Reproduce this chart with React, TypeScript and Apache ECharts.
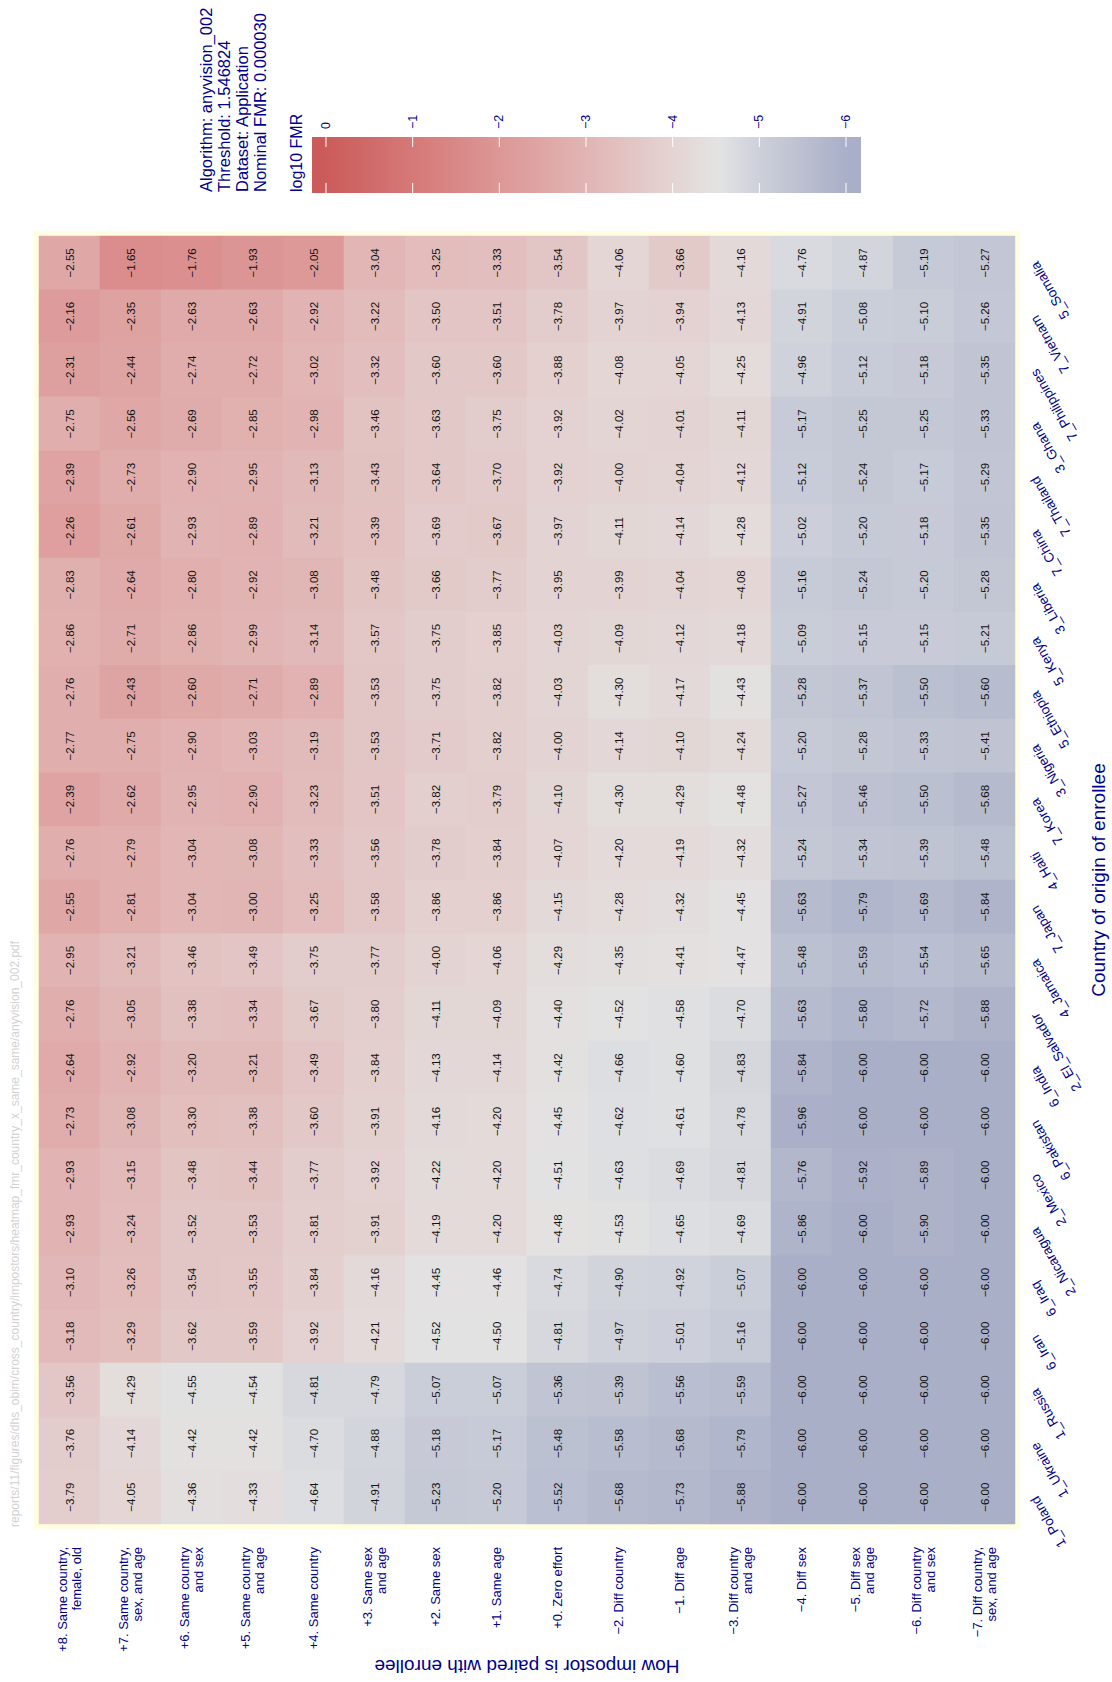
import React, { useEffect, useRef } from "react";
import * as echarts from "echarts";

// ---------- data ----------
const categories = [
  "+8. Same country,\nfemale, old",
  "+7. Same country,\nsex, and age",
  "+6. Same country\nand sex",
  "+5. Same country\nand age",
  "+4. Same country",
  "+3. Same sex\nand age",
  "+2. Same sex",
  "+1. Same age",
  "+0. Zero effort",
  "\u22122. Diff country",
  "\u22121. Diff age",
  "\u22123. Diff country\nand age",
  "\u22124. Diff sex",
  "\u22125. Diff sex\nand age",
  "\u22126. Diff country\nand sex",
  "\u22127. Diff country,\nsex, and age",
];

// top to bottom
const countries = [
  "5_Somalia", "7_Vietnam", "7_Philippines", "3_Ghana", "7_Thailand", "7_China",
  "3_Liberia", "5_Kenya", "5_Ethiopia", "3_Nigeria", "7_Korea", "4_Haiti",
  "7_Japan", "4_Jamaica", "2_El_Salvador", "6_India", "6_Pakistan", "2_Mexico",
  "2_Nicaragua", "6_Iraq", "6_Iran", "1_Russia", "1_Ukraine", "1_Poland",
];

const somalia = [-2.55, -1.65, -1.76, -1.93, -2.05, -3.04, -3.25, -3.33, -3.54, -4.06, -3.66, -4.16, -4.76, -4.87, -5.19, -5.27];
const vietnam = [-2.16, -2.35, -2.63, -2.63, -2.92, -3.22, -3.50, -3.51, -3.78, -3.97, -3.94, -4.13, -4.91, -5.08, -5.10, -5.26];
const philippines = [-2.31, -2.44, -2.74, -2.72, -3.02, -3.32, -3.60, -3.60, -3.88, -4.08, -4.05, -4.25, -4.96, -5.12, -5.18, -5.35];
const ghana = [-2.75, -2.56, -2.69, -2.85, -2.98, -3.46, -3.63, -3.75, -3.92, -4.02, -4.01, -4.11, -5.17, -5.25, -5.25, -5.33];
const thailand = [-2.39, -2.73, -2.90, -2.95, -3.13, -3.43, -3.64, -3.70, -3.92, -4.00, -4.04, -4.12, -5.12, -5.24, -5.17, -5.29];
const china = [-2.26, -2.61, -2.93, -2.89, -3.21, -3.39, -3.69, -3.67, -3.97, -4.11, -4.14, -4.28, -5.02, -5.20, -5.18, -5.35];
const liberia = [-2.83, -2.64, -2.80, -2.92, -3.08, -3.48, -3.66, -3.77, -3.95, -3.99, -4.04, -4.08, -5.16, -5.24, -5.20, -5.28];
const kenya = [-2.86, -2.71, -2.86, -2.99, -3.14, -3.57, -3.75, -3.85, -4.03, -4.09, -4.12, -4.18, -5.09, -5.15, -5.15, -5.21];
const ethiopia = [-2.76, -2.43, -2.60, -2.71, -2.89, -3.53, -3.75, -3.82, -4.03, -4.30, -4.17, -4.43, -5.28, -5.37, -5.50, -5.60];
const nigeria = [-2.77, -2.75, -2.90, -3.03, -3.19, -3.53, -3.71, -3.82, -4.00, -4.14, -4.10, -4.24, -5.20, -5.28, -5.33, -5.41];
const korea = [-2.39, -2.62, -2.95, -2.90, -3.23, -3.51, -3.82, -3.79, -4.10, -4.30, -4.29, -4.48, -5.27, -5.46, -5.50, -5.68];
const haiti = [-2.76, -2.79, -3.04, -3.08, -3.33, -3.56, -3.78, -3.84, -4.07, -4.20, -4.19, -4.32, -5.24, -5.34, -5.39, -5.48];
const japan = [-2.55, -2.81, -3.04, -3.00, -3.25, -3.58, -3.86, -3.86, -4.15, -4.28, -4.32, -4.45, -5.63, -5.79, -5.69, -5.84];
const jamaica = [-2.95, -3.21, -3.46, -3.49, -3.75, -3.77, -4.00, -4.06, -4.29, -4.35, -4.41, -4.47, -5.48, -5.59, -5.54, -5.65];
const elSalvador = [-2.76, -3.05, -3.38, -3.34, -3.67, -3.80, -4.11, -4.09, -4.40, -4.52, -4.58, -4.70, -5.63, -5.80, -5.72, -5.88];
const india = [-2.64, -2.92, -3.20, -3.21, -3.49, -3.84, -4.13, -4.14, -4.42, -4.66, -4.60, -4.83, -5.84, -6.00, -6.00, -6.00];
const pakistan = [-2.73, -3.08, -3.30, -3.38, -3.60, -3.91, -4.16, -4.20, -4.45, -4.62, -4.61, -4.78, -5.96, -6.00, -6.00, -6.00];
const mexico = [-2.93, -3.15, -3.48, -3.44, -3.77, -3.92, -4.22, -4.20, -4.51, -4.63, -4.69, -4.81, -5.76, -5.92, -5.89, -6.00];
const nicaragua = [-2.93, -3.24, -3.52, -3.53, -3.81, -3.91, -4.19, -4.20, -4.48, -4.53, -4.65, -4.69, -5.86, -6.00, -5.90, -6.00];
const iraq = [-3.10, -3.26, -3.54, -3.55, -3.84, -4.16, -4.45, -4.46, -4.74, -4.90, -4.92, -5.07, -6.00, -6.00, -6.00, -6.00];
const iran = [-3.18, -3.29, -3.62, -3.59, -3.92, -4.21, -4.52, -4.50, -4.81, -4.97, -5.01, -5.16, -6.00, -6.00, -6.00, -6.00];
const russia = [-3.56, -4.29, -4.55, -4.54, -4.81, -4.79, -5.07, -5.07, -5.36, -5.39, -5.56, -5.59, -6.00, -6.00, -6.00, -6.00];
const ukraine = [-3.76, -4.14, -4.42, -4.42, -4.70, -4.88, -5.18, -5.17, -5.48, -5.58, -5.68, -5.79, -6.00, -6.00, -6.00, -6.00];
const poland = [-3.79, -4.05, -4.36, -4.33, -4.64, -4.91, -5.23, -5.20, -5.52, -5.68, -5.73, -5.88, -6.00, -6.00, -6.00, -6.00];

const countryRows = [
  somalia, vietnam, philippines, ghana, thailand, china, liberia, kenya, ethiopia,
  nigeria, korea, haiti, japan, jamaica, elSalvador, india, pakistan, mexico,
  nicaragua, iraq, iran, russia, ukraine, poland,
];

const colorbarTicks = [0, -1, -2, -3, -4, -5, -6];

const infoLines = [
  "Algorithm: anyvision_002",
  "Threshold: 1.546824",
  "Dataset: Application",
  "Nominal FMR: 0.000030",
];
const watermark =
  "reports/11/figures/dhs_obim/cross_country/impostors/heatmap_fmr_country_x_same_same/anyvision_002.pdf";

// ---------- colour scale ----------
const colorAnchors: [number, string][] = [
  [-6, "#a9afc7"],
  [-5, "#cdd0da"],
  [-4.52, "#e3e3e3"],
  [-4, "#e3d4d3"],
  [-3, "#e1b5b4"],
  [-2, "#dc9796"],
  [-1, "#d57978"],
  [0, "#cb5b5b"],
];
function hexRgb(h: string) {
  return [parseInt(h.slice(1, 3), 16), parseInt(h.slice(3, 5), 16), parseInt(h.slice(5, 7), 16)];
}
function colorAt(v: number) {
  const c = Math.max(-6, Math.min(0, v));
  for (let i = 0; i < colorAnchors.length - 1; i++) {
    const [v0, h0] = colorAnchors[i];
    const [v1, h1] = colorAnchors[i + 1];
    if (c >= v0 && c <= v1) {
      const t = (c - v0) / (v1 - v0);
      const a = hexRgb(h0), b = hexRgb(h1);
      const r = a.map((x, k) => Math.round(x + (b[k] - x) * t));
      return `rgb(${r[0]},${r[1]},${r[2]})`;
    }
  }
  return colorAnchors[colorAnchors.length - 1][1];
}
const palette = Array.from({ length: 61 }, (_, i) => colorAt(-6 + i * 0.1));

// ---------- layout ----------
const FONT = "'Liberation Sans', Arial, Helvetica, sans-serif";
const BLUE = "#00008B";
const G = { left: 39, top: 236, width: 976, height: 1288 };
const FR = 5;
const CB = { left: 312, right: 861, top: 137, bottom: 193, zeroX: 326, pxPerUnit: 86.67 };

const fmt = (v: number) => v.toFixed(2).replace("-", "\u2212");
const tickFmt = (v: number) => (v === 0 ? "0" : "\u2212" + Math.abs(v));

function buildOption(): any {
  const data: any[] = [];
  countryRows.forEach((row, i) => row.forEach((v, j) => data.push([j, i, v])));

  const cbValAtX = (x: number) => -(x - CB.zeroX) / CB.pxPerUnit;
  const gradStops = Array.from({ length: 51 }, (_, k) => {
    const t = k / 50;
    const x = CB.left + t * (CB.right - CB.left);
    return { offset: t, color: colorAt(cbValAtX(x)) };
  });

  const graphics: any[] = [
    {
      type: "rect",
      z: -10,
      shape: { x: G.left - FR, y: G.top - FR, width: G.width + 2 * FR, height: G.height + 2 * FR },
      style: { fill: "#fffee0" },
    },
    {
      type: "rect",
      shape: { x: CB.left, y: CB.top, width: CB.right - CB.left, height: CB.bottom - CB.top },
      style: { fill: new echarts.graphic.LinearGradient(0, 0, 1, 0, gradStops) },
    },
    {
      type: "text",
      x: 15,
      y: 1527,
      rotation: Math.PI / 2,
      style: { text: watermark, fill: "#d2d2d2", font: `12px ${FONT}`, textAlign: "left", textVerticalAlign: "middle" },
    },
    {
      type: "text",
      x: 233,
      y: 192,
      rotation: Math.PI / 2,
      style: {
        text: infoLines.join("\n"),
        fill: BLUE,
        font: `16.5px ${FONT}`,
        lineHeight: 18,
        textAlign: "left",
        textVerticalAlign: "middle",
      },
    },
    {
      type: "text",
      x: 296,
      y: 192,
      rotation: Math.PI / 2,
      style: { text: "log10 FMR", fill: BLUE, font: `16px ${FONT}`, textAlign: "left", textVerticalAlign: "middle" },
    },
  ];
  colorbarTicks.forEach((t) => {
    const x = CB.zeroX - t * CB.pxPerUnit;
    graphics.push({
      type: "line",
      shape: { x1: x, y1: CB.top, x2: x, y2: CB.top + 10 },
      style: { stroke: "#ffffff", lineWidth: 1 },
    });
    graphics.push({
      type: "line",
      shape: { x1: x, y1: CB.bottom - 10, x2: x, y2: CB.bottom },
      style: { stroke: "#ffffff", lineWidth: 1 },
    });
    graphics.push({
      type: "text",
      x,
      y: 129,
      rotation: Math.PI / 2,
      style: { text: tickFmt(t), fill: BLUE, font: `12.5px ${FONT}`, textAlign: "left", textVerticalAlign: "middle" },
    });
  });

  return {
    animation: false,
    backgroundColor: "#ffffff",
    grid: { ...G, containLabel: false, outerBoundsMode: "none" },
    visualMap: {
      show: false,
      type: "continuous",
      min: -6,
      max: 0,
      dimension: 2,
      seriesIndex: 0,
      inRange: { color: palette },
    },
    xAxis: [
      {
        type: "category",
        data: categories,
        position: "bottom",
        offset: FR,
        axisLine: { show: false },
        splitLine: { show: false },
        axisTick: { alignWithLabel: true, length: 8, lineStyle: { color: "#333", width: 1.5 } },
        axisLabel: {
          interval: 0,
          rotate: 90,
          margin: 18,
          fontSize: 13,
          lineHeight: 13.5,
          color: BLUE,
          fontFamily: FONT,
        },
        name: "How impostor is paired with enrollee",
        nameLocation: "middle",
        nameGap: 128,
        nameRotate: 180,
        nameMoveOverlap: false,
        nameTextStyle: { fontSize: 19, color: BLUE, fontFamily: FONT },
      },
      {
        type: "category",
        data: categories,
        position: "top",
        offset: FR,
        axisLine: { show: false },
        splitLine: { show: false },
        axisTick: { alignWithLabel: true, inside: true, length: FR, lineStyle: { color: "#9a9a9a" } },
        axisLabel: { show: false },
      },
    ],
    yAxis: [
      {
        type: "category",
        data: countries,
        inverse: true,
        position: "right",
        offset: FR,
        axisLine: { show: false },
        splitLine: { show: false },
        axisTick: { alignWithLabel: true, length: 7, lineStyle: { color: "#333", width: 1.5 } },
        axisLabel: { interval: 0, rotate: 120, margin: 14, fontSize: 13.5, color: BLUE, fontFamily: FONT },
        name: "Country of origin of enrollee",
        nameLocation: "middle",
        nameGap: 69,
        nameRotate: 90,
        nameMoveOverlap: false,
        nameTextStyle: { fontSize: 19, color: BLUE, fontFamily: FONT },
      },
      {
        type: "category",
        data: countries,
        inverse: true,
        position: "left",
        offset: FR,
        axisLine: { show: false },
        splitLine: { show: false },
        axisTick: { alignWithLabel: true, inside: true, length: FR, lineStyle: { color: "#9a9a9a" } },
        axisLabel: { show: false },
      },
    ],
    series: [
      {
        type: "heatmap",
        xAxisIndex: 0,
        yAxisIndex: 0,
        data,
        itemStyle: { borderWidth: 0 },
        emphasis: { disabled: true },
        label: {
          show: true,
          rotate: 90,
          fontSize: 11.5,
          color: "#111",
          fontFamily: FONT,
          formatter: (p: any) => fmt(p.value[2]),
        },
      },
    ],
    graphic: graphics,
  };
}

export default function App() {
  const ref = useRef<HTMLDivElement>(null);
  useEffect(() => {
    if (!ref.current) return;
    const chart = echarts.init(ref.current, null, { renderer: "svg" });
    chart.setOption(buildOption());
    return () => chart.dispose();
  }, []);
  return (
    <div
      ref={ref}
      style={{ position: "fixed", left: 0, top: 0, width: 1112, height: 1682, background: "#fff" }}
    />
  );
}
